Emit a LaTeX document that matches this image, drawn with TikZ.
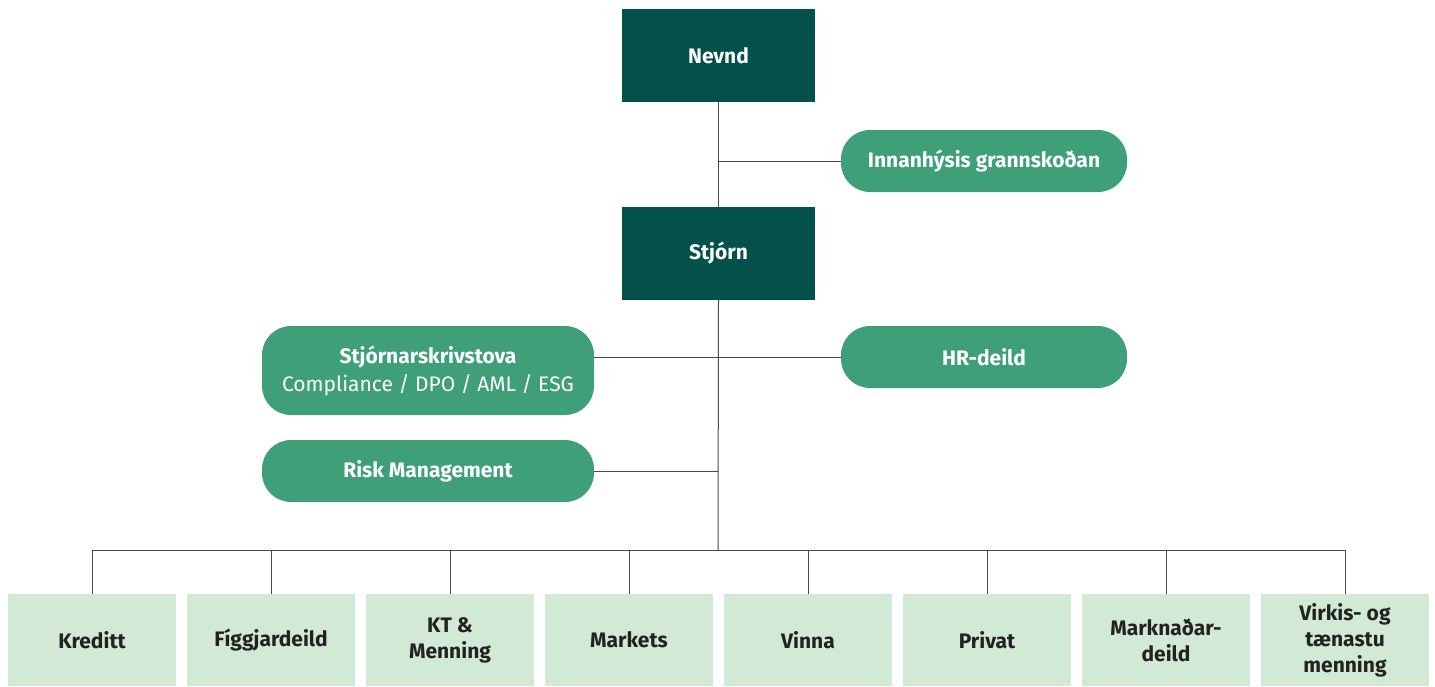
\documentclass[tikz,border=0pt]{standalone}
\usepackage{fontspec}
\setmainfont{Fira Sans}
\definecolor{dkgreen}{HTML}{03514A}
\definecolor{mdgreen}{HTML}{3E9F78}
\definecolor{ltgreen}{HTML}{D2E9D5}
\definecolor{txtdark}{HTML}{222222}
\definecolor{linegray}{HTML}{4A4A4A}
\begin{document}
\begin{tikzpicture}[x=1pt,y=-1pt,
  topbox/.style={fill=dkgreen,text=white,minimum width=193pt,minimum height=93pt,inner sep=0pt,font=\fontsize{21}{25}\selectfont\bfseries},
  pill/.style={fill=mdgreen,text=white,rounded corners=29pt,minimum width=286pt,minimum height=62pt,inner sep=0pt,align=center,font=\fontsize{21}{25}\selectfont\bfseries},
  unit/.style={fill=ltgreen,text=txtdark,minimum width=168pt,minimum height=92pt,inner sep=0pt,align=center,font=\fontsize{21}{26}\selectfont\bfseries},
  conn/.style={draw=linegray,line width=1pt}]
\useasboundingbox (0,0) rectangle (1435,686);
\node[topbox] (nevnd) at (718.5,55.5) {Nevnd};
\node[topbox] (stjorn) at (718.5,253.5) {Stjórn};
\node[pill] (innan) at (984,161) {Innanhýsis grannskoðan};
\node[pill] (hr) at (984,357) {HR-deild};
\node[pill,minimum width=332pt,minimum height=89pt] (skriv) at (428,370.5) {Stjórnarskrivstova\\[3pt]{\mdseries Compliance / DPO / AML / ESG}};
\node[pill,minimum width=332pt] (risk) at (428,471) {Risk Management};
\coordinate (j1) at (718,161);
\coordinate (j2) at (718,357);
\coordinate (j3) at (718,471);
\coordinate (bus) at (718,550);
\draw[conn] (nevnd.south) -- (stjorn.north);
\draw[conn] (j1) -- (innan.west);
\draw[conn] (stjorn.south) -- (bus);
\draw[conn] (skriv.east |- j2) -- (hr.west);
\draw[conn] (risk.east) -- (j3);
\foreach \n/\x/\t in {a/92/Kreditt, b/271/Fíggjardeild, c/450/{KT \&\\Menning}, d/629/Markets, e/808/Vinna, f/987/Privat, g/1166/{Marknaðar-\\deild}, h/1345/{Virkis- og\\tænastu\\menning}}{
  \node[unit] (u\n) at (\x,640) {\t};
}
\draw[conn] (ua.north |- bus) -- (uh.north |- bus);
\foreach \n in {a,b,c,d,e,f,g,h}{
  \draw[conn] (u\n.north |- bus) -- (u\n.north);
}
\end{tikzpicture}
\end{document}
